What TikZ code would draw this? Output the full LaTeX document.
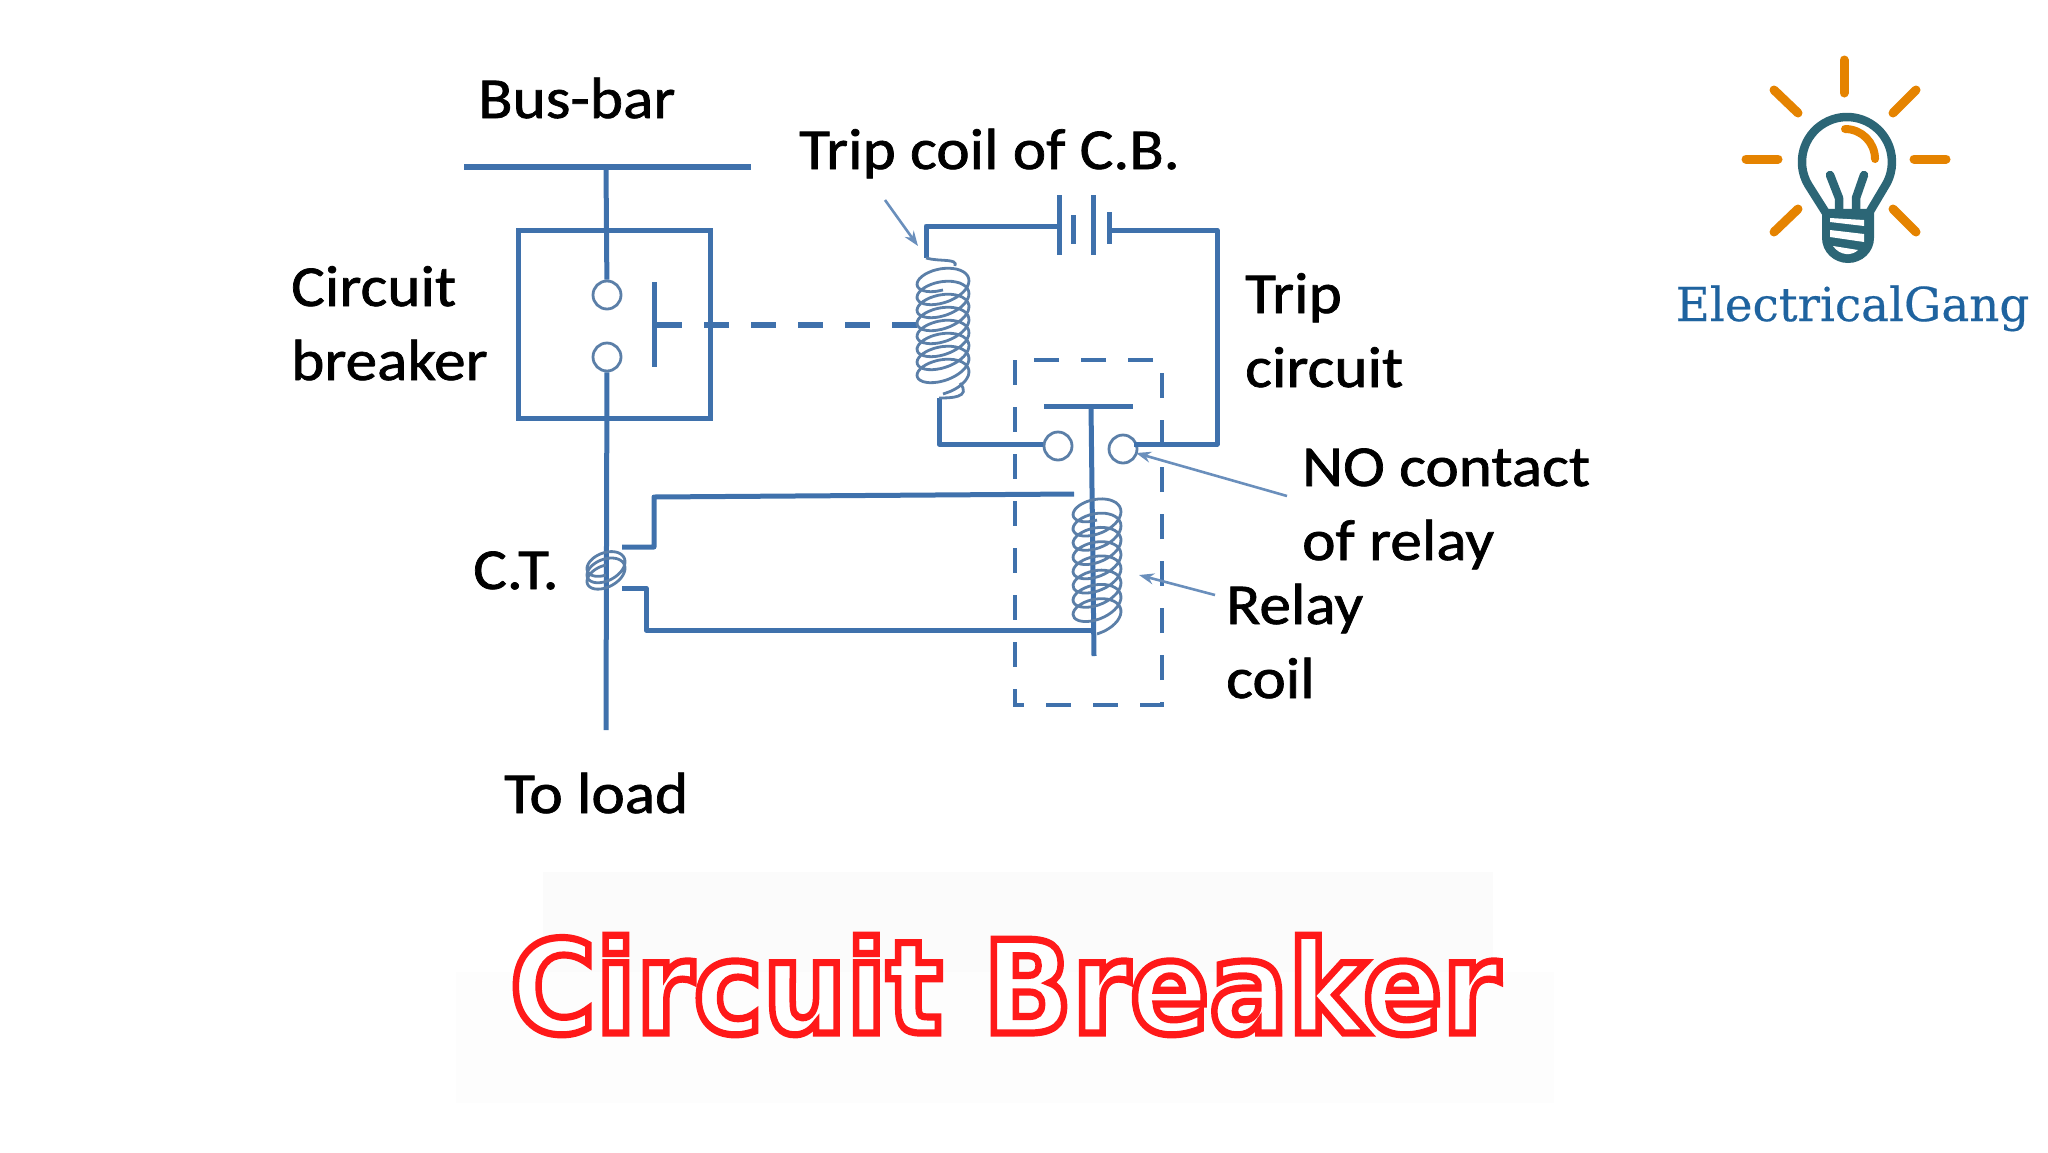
\documentclass[tikz,border=0pt]{standalone}
\usepackage{fontspec}
\setmainfont{Carlito}[FakeStretch=1.09, FakeBold=1.2]
\newfontfamily\titlefont{DejaVu Sans}
\newfontfamily\logofont{DejaVu Serif}[FakeBold=0.4]
\usetikzlibrary{positioning, arrows.meta}
\definecolor{wireblue}{HTML}{3F71AC}
\definecolor{coilblue}{HTML}{5B7FA8}
\definecolor{pointerblue}{HTML}{6A8FBC}
\definecolor{rayorange}{HTML}{E58300}
\definecolor{bulbteal}{HTML}{2C6676}
\definecolor{logoblue}{HTML}{1F639F}
\definecolor{patchone}{HTML}{FBFBFB}
\definecolor{patchtwo}{HTML}{FDFDFD}
\tikzset{
  wire/.style={draw=wireblue, line width=5pt, line join=round},
  linkdash/.style={draw=wireblue, line width=5.5pt, dash pattern=on 25pt off 22pt},
  relaydash/.style={draw=wireblue, line width=4.5pt, dash pattern=on 25pt off 22pt},
  coilwire/.style={draw=coilblue, line width=2.8pt},
  pointer/.style={-{Stealth[length=15pt, width=11pt]}, draw=pointerblue, line width=2.6pt},
  contact/.style={circle, draw=coilblue, line width=2.8pt, fill=white, minimum size=28pt, inner sep=0pt},
  lbl/.style={anchor=base west, inner sep=0pt, font=\fontsize{58}{74}\selectfont, align=left},
  ray/.style={draw=rayorange, line width=9pt, line cap=round},
  bulb/.style={draw=bulbteal, line width=8.5pt, line cap=round, line join=round}
}
% helix: centre x, half width, first y, last y, turns, loop height
\newcommand{\helix}[6]{plot[smooth, samples=150, domain=0:#5*360]
  ({#1+#2*cos(\x+90)}, {#3+(#4-#3)*(\x/(#5*360))+#6*sin(\x+90)-5*cos(\x+90)})}
\begin{document}
\begin{tikzpicture}[>=stealth, x=1pt, y=-1pt]
  \useasboundingbox (0,0) rectangle (2048,1152);

  % faint patches behind the title
  \fill [patchone] (543,872) rectangle (1493,972);
  \fill [patchtwo] (456,972) rectangle (1554,1103);

  % breaker
  \node (cbbox) [draw=wireblue, line width=5pt, minimum width=192pt, minimum height=188pt, inner sep=0pt] at (614,324) {};
  \coordinate (barleft) at (464,167);
  \coordinate (barright) at (751,167);
  \coordinate (bartap) at (606,167);
  \coordinate (lineend) at (606,730);
  \node (cbtop) [contact] at (607,295) {};
  \node (cbbot) [contact] at (607,357) {};
  \coordinate (movetop) at (654,282);
  \coordinate (movebot) at (654,367);
  \coordinate (movemid) at (657,325);
  \coordinate (tripmid) at (922,325);
  \draw [wire, line width=6pt] (barleft) -- (barright);
  \draw [wire] (bartap) -- (cbtop);
  \draw [wire] (cbbot) -- (lineend);
  \draw [wire] (movetop) -- (movebot);
  \draw [linkdash] (movemid) -- (tripmid);

  % trip circuit
  \coordinate (tripin) at (926,258);
  \coordinate (tripcorner) at (926,226);
  \coordinate (batl) at (1059,226);
  \coordinate (batr) at (1109,230);
  \coordinate (rightcorner) at (1217,230);
  \coordinate (rightlow) at (1217,444);
  \coordinate (tripout) at (939,398);
  \node (relayl) [contact] at (1058,446) {};
  \node (relayr) [contact] at (1123,449) {};
  \draw [wire] (tripin) -- (tripcorner) -- (batl);
  \draw [wire] (batr) -- (rightcorner) -- (rightlow) -- (relayr.north east |- rightlow);
  \draw [wire] (tripout) |- (relayl.west |- rightlow);
  \draw [wire] (1059,195) -- (1059,255);
  \draw [wire] (1073,215) -- (1073,244);
  \draw [wire] (1093,195) -- (1093,255);
  \draw [wire] (1109,212) -- (1109,244);
  \draw [coilwire] (tripin) .. controls (940,262) and (958,258) .. (955,266);
  \draw [coilwire] \helix{943}{26}{276}{380}{8}{14};
  \draw [coilwire] (960,383) .. controls (972,398) and (950,398) .. (tripout);

  % relay
  \draw [relaydash] (1015,360) rectangle (1162,705);
  \coordinate (armleft) at (1044,406);
  \coordinate (armright) at (1133,406);
  \coordinate (armmid) at (1091,406);
  \coordinate (stemend) at (1094,656);
  \draw [wire] (armleft) -- (armright);
  \draw [wire] (armmid) -- (stemend);
  \draw [coilwire] \helix{1097}{24}{506}{620}{8}{14};
  \draw [wire] (1074,494) -- (654,497) -- (654,547) -- (622,547);
  \draw [wire] (622,588) -- (646,588) -- (646,630) -- (1095,630);

  % C.T.
  \draw [coilwire] \helix{606}{19}{562}{578}{2.5}{13};

  % pointers
  \coordinate (trippoint) at (918,246);
  \coordinate (nopoint) at (1136,453);
  \coordinate (coilpoint) at (1139,575);
  \coordinate (tripstart) at (885,200);
  \coordinate (nostart) at (1287,496);
  \coordinate (coilstart) at (1215,595);
  \draw [pointer] (tripstart) -- (trippoint);
  \draw [pointer] (nostart) -- (nopoint);
  \draw [pointer] (coilstart) -- (coilpoint);

  % labels
  \node (busbar) [lbl] at (478,118) {Bus-bar};
  \node (tripcoil) [lbl] at (799,169) {Trip coil of C.B.};
  \node (breaker) [lbl] at (291,380) {Circuit\\breaker};
  \node (tripckt) [lbl] at (1245,387) {Trip\\circuit};
  \node (nocontact) [lbl] at (1302,560) {NO contact\\of relay};
  \node (relaycoil) [lbl] at (1226,698) {Relay\\coil};
  \node (ct) [lbl] at (473,589) {C.T.};
  \node (toload) [lbl] at (504,813) {To load};

  % title
  \node (title) [anchor=base, inner sep=0pt, font=\titlefont\bfseries\fontsize{117}{117}\selectfont] at (1005,1033)
    {\scalebox{1}[1.1]{\special{pdf:code 2 Tr 6.5 w 1 0.1 0.1 RG 1 1 1 rg}Circuit Breaker\special{pdf:code 0 Tr 1 w}}};

  % logo
  \draw [ray] (1844,60) -- (1844,93);
  \draw [ray] (1774,90) -- (1798,113);
  \draw [ray] (1916,90) -- (1893,113);
  \draw [ray] (1746,159) -- (1778,159);
  \draw [ray] (1914,159) -- (1946,159);
  \draw [ray] (1798,209) -- (1774,232);
  \draw [ray] (1893,209) -- (1916,232);
  \draw [ray, line width=8pt] (1845,129) arc[start angle=90, end angle=0, radius=30pt];
  \draw [bulb] (1826,213) -- (1808,184.5) arc[start angle=210, end angle=-30, radius=45pt] -- (1869,213) -- cycle;
  \draw [bulb] (1830,175) -- (1839,198) -- (1839,213);
  \draw [bulb] (1864,175) -- (1856,198) -- (1856,213);
  \fill [bulbteal] (1822,213) -- (1874,213) -- (1874,238) arc[start angle=0, end angle=-180, x radius=26pt, y radius=25pt] -- cycle;
  \fill [white] (1830,218) -- (1864,220) -- (1864,226) -- (1830,222) -- cycle;
  \fill [white] (1830,230) -- (1864,234) -- (1864,242) -- (1830,237) -- cycle;
  \fill [white] (1833,246) -- (1858,250) .. controls (1852,256) and (1840,256) .. (1833,246) -- cycle;
  \node (logotext) [anchor=base, inner sep=0pt, text=logoblue, font=\logofont\fontsize{46.8}{50}\selectfont] at (1852.5,321) {ElectricalGang};
\end{tikzpicture}
\end{document}
